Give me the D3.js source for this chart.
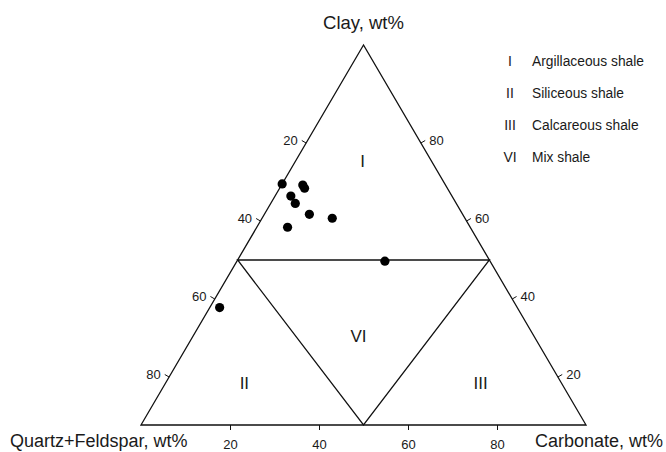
<!DOCTYPE html>
<html>
<head>
<meta charset="utf-8">
<script src="https://cdn.jsdelivr.net/npm/d3@7"></script>
<style>
  body { margin: 0; background: #fff; }
  text { font-family: "Liberation Sans", Arial, sans-serif; fill: #1a1a1a; }
</style>
</head>
<body>
<svg id="chart" width="666" height="452"></svg>
<script>
// sample compositions, wt%
const quartzFeldspar = [30.5, 26.8, 26.9, 30.6, 30.8, 29.6, 25.7, 35.6, 20.9, 60.2];
const carbonate      = [ 0.0,  4.0,  4.7,  3.0,  4.7,  8.7, 13.6,  6.0, 29.4,  2.0];
const clay           = [69.5, 69.2, 68.4, 66.4, 64.5, 61.7, 60.7, 58.4, 49.7, 37.8];

const tickValues = [20, 40, 60, 80];
const regionNumerals = ["I", "II", "III", "VI"];
const regionNames = ["Argillaceous shale", "Siliceous shale", "Calcareous shale", "Mix shale"];
const axisTitles = ["Clay, wt%", "Quartz+Feldspar, wt%", "Carbonate, wt%"];

const svg = d3.select("#chart");

// triangle frame
const APEX = { x: 363.5, y: 45 }, BL = { x: 141, y: 425 }, BR = { x: 586, y: 425 };

const clayY = d3.scaleLinear().domain([0, 100]).range([455, 65]);
const carbX = d3.scaleLinear().domain([0, 100]).range([BL.x, BR.x]);

const halfWidthAt = function (y) {
    return (y - APEX.y) / (BL.y - APEX.y) * (BR.x - BL.x) / 2;
}

const project = function (q, c, cl) {
    let y = clayY(cl);
    let hw = halfWidthAt(y);
    let frac = (q + c) > 0 ? c / (q + c) : 0.5;
    return [APEX.x - hw + frac * 2 * hw, y];
}

const line = d3.line();

// outline
svg.append("path")
    .attr("d", line([[APEX.x, APEX.y], [BL.x, BL.y], [BR.x, BR.y]]) + "Z")
    .attr("fill", "none").attr("stroke", "#111").attr("stroke-width", 1.3);

// region boundaries (clay 50%, and V down to 50/50 on the base)
let pl = project(50, 0, 50), pr = project(0, 50, 50), pb = [carbX(50), BL.y];
svg.append("path")
    .attr("d", line([pl, pr, pb]) + "Z")
    .attr("fill", "none").attr("stroke", "#111").attr("stroke-width", 1.3);

// bottom axis: carbonate
const bottomAxis = svg.append("g")
    .attr("transform", `translate(0,${BL.y})`)
    .call(d3.axisBottom(carbX).tickValues(tickValues).tickSize(5).tickPadding(10));
bottomAxis.select(".domain").remove();
bottomAxis.selectAll("line").attr("stroke", "#111");
bottomAxis.selectAll("text")
    .style("font-family", "Liberation Sans, Arial, sans-serif")
    .style("font-size", "13px").attr("fill", "#1a1a1a");

// side axes
const tickLen = 5;
const sideTicks = function (side) {
    // side: -1 left (quartz+feldspar), +1 right (clay)
    let nx = side * Math.cos(Math.PI / 6), ny = -Math.sin(Math.PI / 6);
    tickValues.forEach(v => {
        let cl = side < 0 ? 100 - v : v;
        let y = clayY(cl);
        let x = APEX.x + side * halfWidthAt(y);
        svg.append("line")
            .attr("x1", x).attr("y1", y)
            .attr("x2", x + nx * tickLen).attr("y2", y + ny * tickLen)
            .attr("stroke", "#111");
        svg.append("text")
            .attr("x", x + nx * tickLen + side * 4)
            .attr("y", y + ny * tickLen)
            .attr("dy", "0.35em")
            .attr("text-anchor", side < 0 ? "end" : "start")
            .style("font-size", "13px")
            .text(v);
    });
}
sideTicks(-1);
sideTicks(1);

// axis titles
svg.append("text").attr("x", APEX.x).attr("y", 29).attr("text-anchor", "middle")
    .style("font-size", "18.5px").text(axisTitles[0]);
svg.append("text").attr("x", 10).attr("y", 447).attr("text-anchor", "start")
    .style("font-size", "18px").text(axisTitles[1]);
svg.append("text").attr("x", 663).attr("y", 447).attr("text-anchor", "end")
    .style("font-size", "18px").text(axisTitles[2]);

// region labels
const regionPos = [
    [APEX.x - 1, 167],
    [(BL.x + pl[0] + pb[0]) / 3 - 3, 389],
    [(BR.x + pr[0] + pb[0]) / 3 + 1, 389],
    [pb[0] - 5, 342]
];
regionNumerals.forEach((r, i) => {
    svg.append("text")
        .attr("x", regionPos[i][0]).attr("y", regionPos[i][1])
        .attr("text-anchor", "middle")
        .style("font-size", "17px")
        .text(r);
});

// legend
const legend = svg.append("g").attr("transform", "translate(510,66)");
regionNumerals.forEach((r, i) => {
    let row = legend.append("g").attr("transform", `translate(0,${i * 32})`);
    row.append("text").attr("text-anchor", "middle").style("font-size", "14px").text(r);
    row.append("text").attr("x", 22).style("font-size", "13.8px").text(regionNames[i]);
});

// samples
svg.append("g")
    .selectAll("circle")
    .data(clay.map((cl, i) => project(quartzFeldspar[i], carbonate[i], cl)))
    .join("circle")
    .attr("cx", d => d[0])
    .attr("cy", d => d[1])
    .attr("r", 4.6)
    .attr("fill", "#000");
</script>
</body>
</html>
